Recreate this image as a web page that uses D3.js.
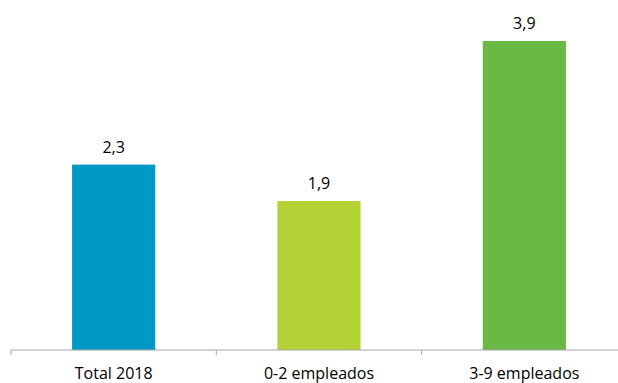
<!DOCTYPE html>
<html lang="es">
<head>
    <meta charset="UTF-8">
    <title>Empleados</title>
    <script src="https://d3js.org/d3.v7.min.js"></script>
    <style>
        body { margin: 0; background: #fff; }
        text { font-family: "Open Sans", "Noto Sans", sans-serif; fill: #000; }
    </style>
</head>
<body>
    <svg width="618" height="383"></svg>

    <script>
        // Chart data (bar heights, labels rounded to one decimal)
        const categories = ["Total 2018", "0-2 empleados", "3-9 empleados"];
        const values = [2.34, 1.88, 3.9];
        const colors = ["#0099c6", "#b3d236", "#69b944"];

        const svg = d3.select("svg");
        const baseline = 350;

        const x = d3.scaleBand()
            .domain(categories)
            .range([11, 627])
            .paddingInner(0.595)
            .paddingOuter(0.2975);

        const y = d3.scaleLinear()
            .domain([0, 3.9])
            .range([baseline, 41]);

        const fmt = d => d.toFixed(1).replace(".", ",");

        // Bars
        svg.selectAll("rect.bar")
            .data(values)
            .join("rect")
            .attr("class", "bar")
            .attr("x", (d, i) => x(categories[i]))
            .attr("y", d => y(d))
            .attr("width", x.bandwidth())
            .attr("height", d => baseline - y(d))
            .attr("fill", (d, i) => colors[i]);

        // Value labels
        svg.selectAll("text.val")
            .data(values)
            .join("text")
            .attr("class", "val")
            .attr("x", (d, i) => x(categories[i]) + x.bandwidth() / 2)
            .attr("y", d => y(d) - 12)
            .attr("text-anchor", "middle")
            .style("font-size", "16px")
            .text(fmt);

        // X axis
        const axis = svg.append("g")
            .attr("transform", `translate(0,${baseline})`);
        axis.append("line")
            .attr("x1", 11).attr("x2", 618)
            .attr("stroke", "#a6a6a6");
        const step = x.step();
        axis.selectAll("line.tick")
            .data(d3.range(categories.length + 1))
            .join("line")
            .attr("class", "tick")
            .attr("x1", i => 11 + i * step)
            .attr("x2", i => 11 + i * step)
            .attr("y1", 0).attr("y2", 5)
            .attr("stroke", "#a6a6a6");
        axis.selectAll("text.cat")
            .data(categories)
            .join("text")
            .attr("class", "cat")
            .attr("x", d => x(d) + x.bandwidth() / 2)
            .attr("y", 29)
            .attr("text-anchor", "middle")
            .style("font-size", "16px")
            .text(d => d);
    </script>
</body>
</html>
